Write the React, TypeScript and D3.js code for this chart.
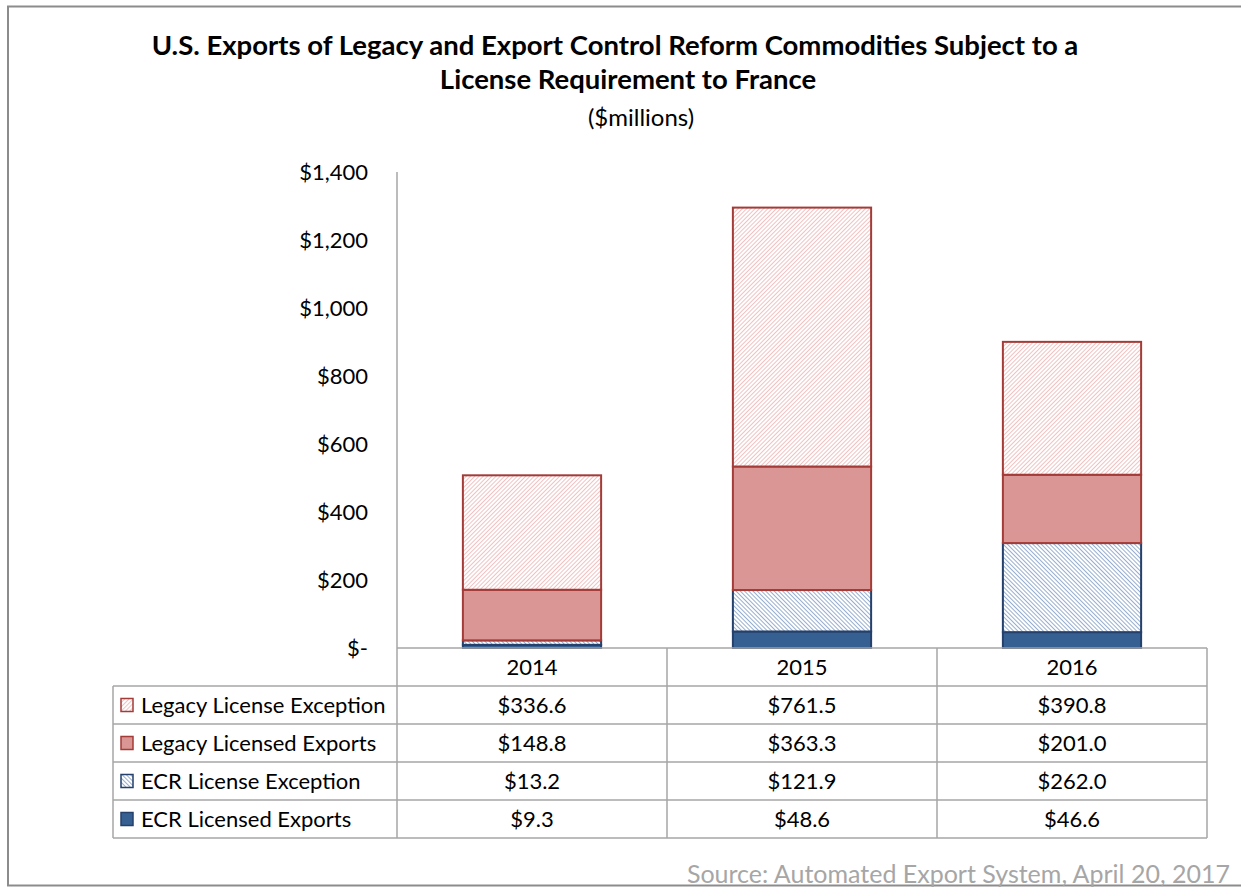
import React from "react";
import * as d3 from "d3";

const years = ["2014", "2015", "2016"];
const seriesNames = [
  "Legacy License Exception",
  "Legacy Licensed Exports",
  "ECR License Exception",
  "ECR Licensed Exports",
];
const ecrLicensed = [9.3, 48.6, 46.6];
const ecrException = [13.2, 121.9, 262.0];
const legacyLicensed = [148.8, 363.3, 201.0];
const legacyException = [336.6, 761.5, 390.8];
const yTicks = [0, 200, 400, 600, 800, 1000, 1200, 1400];

const W = 1241;
const H = 888;
const FONT = "Lato, 'Open Sans', sans-serif";

export default function App() {
  const x = d3.scaleBand<string>().domain(years).range([397, 1207]).padding(0);
  const y = d3.scaleLinear().domain([0, 1400]).range([648, 172]);
  const barW = x.bandwidth() * 0.512;

  const stackKeys = ["ecrL", "ecrE", "legL", "legE"];
  const rows = years.map((yr, i) => ({
    year: yr,
    ecrL: ecrLicensed[i],
    ecrE: ecrException[i],
    legL: legacyLicensed[i],
    legE: legacyException[i],
  }));
  const stacked = d3.stack<any>().keys(stackKeys)(rows);

  const styles: Record<string, { fill: string; stroke: string }> = {
    ecrL: { fill: "#376092", stroke: "#24406B" },
    ecrE: { fill: "url(#hatchBlue)", stroke: "#24406B" },
    legL: { fill: "#D99694", stroke: "#A33B38" },
    legE: { fill: "url(#hatchRed)", stroke: "#A33B38" },
  };

  const tableRows = [
    { name: seriesNames[0], key: "legE", vals: legacyException },
    { name: seriesNames[1], key: "legL", vals: legacyLicensed },
    { name: seriesNames[2], key: "ecrE", vals: ecrException },
    { name: seriesNames[3], key: "ecrL", vals: ecrLicensed },
  ];
  const tableTop = 648;
  const rowH = 38;
  const tableLeft = 113;
  const tableRight = 1207;
  const gridColor = "#A6A6A6";
  const fmtTick = (v: number) => (v === 0 ? "$-" : "$" + d3.format(",")(v));
  const fmtVal = (v: number) => "$" + v.toFixed(1);
  const FS = 22;

  return (
    <svg width={W} height={H} style={{ position: "absolute", left: 0, top: 0, display: "block" }} fontFamily={FONT}>
      <defs>
        <pattern id="hatchRed" patternUnits="userSpaceOnUse" width="3" height="3" patternTransform="rotate(45)">
          <rect width="3" height="3" fill="#FFFFFF" />
          <line x1="0" y1="0" x2="0" y2="3" stroke="#EBB3B1" strokeWidth="1.6" />
        </pattern>
        <pattern id="hatchBlue" patternUnits="userSpaceOnUse" width="3" height="3" patternTransform="rotate(-45)">
          <rect width="3" height="3" fill="#FFFFFF" />
          <line x1="0" y1="0" x2="0" y2="3" stroke="#6A8BBB" strokeWidth="1.4" />
        </pattern>
      </defs>
      <rect x={0} y={0} width={W} height={H} fill="#FFFFFF" />
      <rect x={8} y={6.5} width={W + 20} height={879} fill="none" stroke="#8C8C8C" strokeWidth={2} />

      {/* Titles */}
      <text x={615} y={55} textAnchor="middle" fontSize={27.5} fontWeight="bold" fill="#000">
        U.S. Exports of Legacy and Export Control Reform Commodities Subject to a
      </text>
      <text x={628} y={89} textAnchor="middle" fontSize={27.5} fontWeight="bold" fill="#000">
        License Requirement to France
      </text>
      <text x={641} y={126} textAnchor="middle" fontSize={24} fill="#000">
        ($millions)
      </text>

      {/* Y axis */}
      <line x1={397} x2={397} y1={172} y2={tableTop + rowH * 5} stroke={gridColor} strokeWidth={1.5} />
      {yTicks.map((t) => (
        <text key={t} x={368} y={y(t) + 8} textAnchor="end" fontSize={FS} fill="#000">
          {fmtTick(t)}
        </text>
      ))}

      {/* Bars */}
      {stacked.map((s) =>
        s.map((d, i) => {
          const yr = years[i];
          const cx = (x(yr) as number) + x.bandwidth() / 2;
          const y0 = y(d[0]);
          const y1 = y(d[1]);
          return (
            <rect
              key={s.key + yr}
              x={cx - barW / 2}
              y={y1}
              width={barW}
              height={Math.max(0, y0 - y1)}
              fill={styles[s.key].fill}
              stroke={styles[s.key].stroke}
              strokeWidth={2}
            />
          );
        })
      )}

      {/* Data table */}
      <g stroke={gridColor} strokeWidth={1.5}>
        <line x1={397} x2={tableRight} y1={tableTop} y2={tableTop} />
        {[1, 2, 3, 4, 5].map((r) => (
          <line key={r} x1={tableLeft} x2={tableRight} y1={tableTop + r * rowH} y2={tableTop + r * rowH} />
        ))}
        <line x1={tableLeft} x2={tableLeft} y1={tableTop + rowH} y2={tableTop + 5 * rowH} />
        {years.map((yr) => (
          <line key={yr} x1={(x(yr) as number) + x.bandwidth()} x2={(x(yr) as number) + x.bandwidth()} y1={tableTop} y2={tableTop + 5 * rowH} />
        ))}
      </g>
      {years.map((yr) => (
        <text key={yr} x={(x(yr) as number) + x.bandwidth() / 2} y={tableTop + rowH / 2 + 8} textAnchor="middle" fontSize={FS} fill="#000">
          {yr}
        </text>
      ))}
      {tableRows.map((r, ri) => {
        const cy = tableTop + (ri + 1) * rowH + rowH / 2;
        return (
          <g key={r.name}>
            <rect x={121} y={cy - 6.5} width={12} height={13} fill={styles[r.key].fill} stroke={styles[r.key].stroke} strokeWidth={1.5} />
            <text x={141} y={cy + 8} fontSize={FS} fill="#000">
              {r.name}
            </text>
            {r.vals.map((v, i) => (
              <text key={i} x={(x(years[i]) as number) + x.bandwidth() / 2} y={cy + 8} textAnchor="middle" fontSize={FS} fill="#000">
                {fmtVal(v)}
              </text>
            ))}
          </g>
        );
      })}

      {/* Source */}
      <text x={1230} y={883} textAnchor="end" fontSize={25} fill="#A6A6A6">
        Source: Automated Export System, April 20, 2017
      </text>
    </svg>
  );
}
